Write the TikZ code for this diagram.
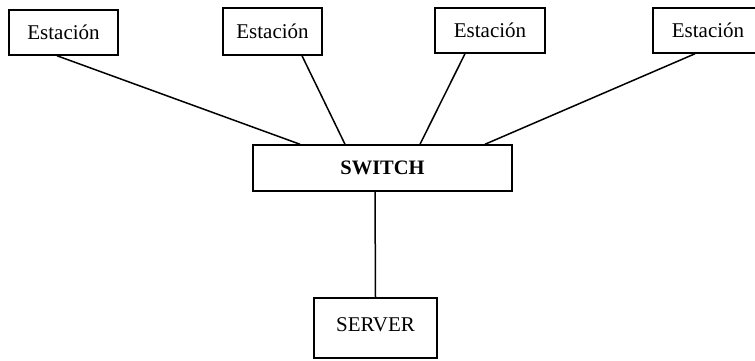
\documentclass[tikz,border=0pt]{standalone}
\usepackage{fontspec}
\setmainfont{Liberation Serif}
\begin{document}
\begin{tikzpicture}[x=1pt,y=-1pt,
  box/.style={draw,line width=1.5pt,inner sep=0pt,font=\fontsize{21}{24}\selectfont},
  wire/.style={line width=1.5pt}]
\useasboundingbox (0,0) rectangle (755,360);
\clip (0,0) rectangle (755,360);
\node[box,minimum width=109pt,minimum height=45pt] (e1) at (63.5,32.5) {Estación};
\node[box,minimum width=99pt,minimum height=47pt] (e2) at (272.5,31.5) {Estación};
\node[box,minimum width=110pt,minimum height=45pt] (e3) at (490,30.5) {Estación};
\node[box,minimum width=110pt,minimum height=45pt] (e4) at (708,30.5) {Estación};
\node[box,minimum width=259pt,minimum height=46pt,font=\fontsize{20.5}{24}\selectfont\bfseries] (sw) at (382.5,168) {SWITCH};
\node[box,minimum width=123pt,minimum height=60pt] (sv) at (375.5,328) {\raisebox{6pt}{SERVER}\hspace{10pt}};
\draw[wire] ([xshift=-6.5pt]e1.south) -- ([xshift=-82.5pt]sw.north);
\draw[wire] ([xshift=29.5pt]e2.south) -- ([xshift=-37.5pt]sw.north);
\draw[wire] ([xshift=-25pt]e3.south) -- ([xshift=37.5pt]sw.north);
\draw[wire] ([xshift=-13pt]e4.south) -- ([xshift=102.5pt]sw.north);
\draw[wire] ([xshift=-7.5pt]sw.south) -- (sv.north);
\end{tikzpicture}
\end{document}
